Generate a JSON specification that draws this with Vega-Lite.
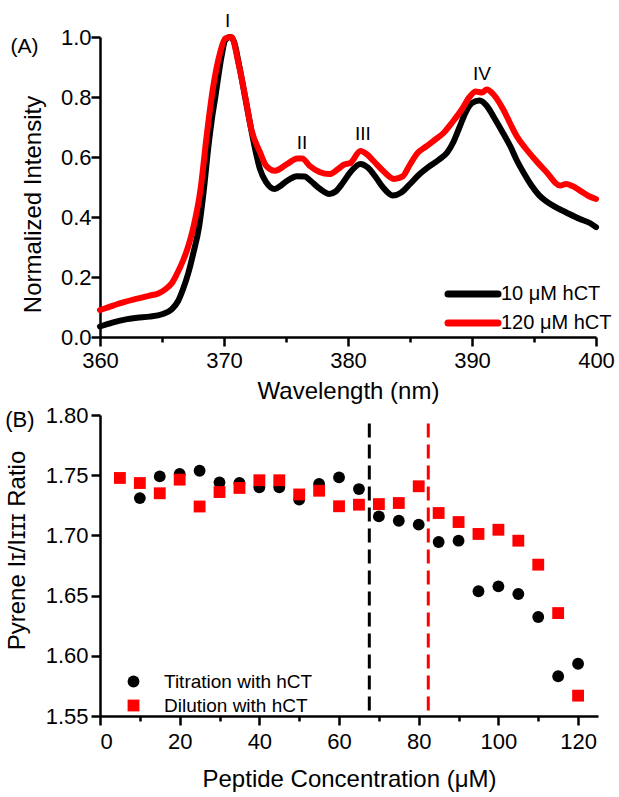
{
  "$schema": "https://vega.github.io/schema/vega-lite/v6.json",
  "background": "white",
  "padding": {"left": 5, "top": 11, "right": 5, "bottom": 5},
  "spacing": 1,
  "resolve": {"scale": {"color": "independent", "shape": "independent"}, "legend": {"color": "independent", "shape": "independent"}},
  "config": {
    "font": "Liberation Sans",
    "view": {"stroke": null},
    "axis": {
      "domainColor": "black", "domainWidth": 2.5, "ticks": true, "tickColor": "black", "tickWidth": 2.5, "tickSize": 9,
      "labelColor": "black", "titleColor": "black", "labelFontSize": 22, "titleFontSize": 24,
      "titleFontWeight": "normal", "grid": false, "labelFont": "Liberation Sans", "titleFont": "Liberation Sans"
    },
    "legend": {"labelFont": "Liberation Sans", "labelColor": "black", "padding": 0, "title": null}
  },
  "datasets": {
    "spectra": [
      {"s": "10 μM hCT", "wl": 360, "i": 0.035}, {"s": "10 μM hCT", "wl": 361, "i": 0.048}, {"s": "10 μM hCT", "wl": 362, "i": 0.058},
      {"s": "10 μM hCT", "wl": 363, "i": 0.064}, {"s": "10 μM hCT", "wl": 364, "i": 0.068}, {"s": "10 μM hCT", "wl": 365, "i": 0.076},
      {"s": "10 μM hCT", "wl": 365.8, "i": 0.093}, {"s": "10 μM hCT", "wl": 366.3, "i": 0.12}, {"s": "10 μM hCT", "wl": 366.7, "i": 0.16},
      {"s": "10 μM hCT", "wl": 367.1, "i": 0.21}, {"s": "10 μM hCT", "wl": 367.5, "i": 0.275}, {"s": "10 μM hCT", "wl": 368.0, "i": 0.37},
      {"s": "10 μM hCT", "wl": 368.4, "i": 0.5}, {"s": "10 μM hCT", "wl": 368.7, "i": 0.62}, {"s": "10 μM hCT", "wl": 369.0, "i": 0.72},
      {"s": "10 μM hCT", "wl": 369.3, "i": 0.8}, {"s": "10 μM hCT", "wl": 369.8, "i": 0.935}, {"s": "10 μM hCT", "wl": 370.1, "i": 0.99},
      {"s": "10 μM hCT", "wl": 370.5, "i": 1.0}, {"s": "10 μM hCT", "wl": 370.8, "i": 0.985}, {"s": "10 μM hCT", "wl": 371.2, "i": 0.91},
      {"s": "10 μM hCT", "wl": 371.7, "i": 0.8}, {"s": "10 μM hCT", "wl": 372.2, "i": 0.69}, {"s": "10 μM hCT", "wl": 372.6, "i": 0.61},
      {"s": "10 μM hCT", "wl": 372.9, "i": 0.56}, {"s": "10 μM hCT", "wl": 373.4, "i": 0.516}, {"s": "10 μM hCT", "wl": 374.1, "i": 0.493},
      {"s": "10 μM hCT", "wl": 374.6, "i": 0.505}, {"s": "10 μM hCT", "wl": 375.1, "i": 0.521}, {"s": "10 μM hCT", "wl": 375.9, "i": 0.536},
      {"s": "10 μM hCT", "wl": 376.5, "i": 0.535}, {"s": "10 μM hCT", "wl": 377.0, "i": 0.52}, {"s": "10 μM hCT", "wl": 377.7, "i": 0.495},
      {"s": "10 μM hCT", "wl": 378.5, "i": 0.477}, {"s": "10 μM hCT", "wl": 379.0, "i": 0.485}, {"s": "10 μM hCT", "wl": 379.6, "i": 0.515},
      {"s": "10 μM hCT", "wl": 380.2, "i": 0.55}, {"s": "10 μM hCT", "wl": 381.0, "i": 0.577}, {"s": "10 μM hCT", "wl": 381.6, "i": 0.565},
      {"s": "10 μM hCT", "wl": 382.2, "i": 0.535}, {"s": "10 μM hCT", "wl": 382.8, "i": 0.5}, {"s": "10 μM hCT", "wl": 383.6, "i": 0.472},
      {"s": "10 μM hCT", "wl": 384.3, "i": 0.482}, {"s": "10 μM hCT", "wl": 385.0, "i": 0.51}, {"s": "10 μM hCT", "wl": 385.7, "i": 0.54},
      {"s": "10 μM hCT", "wl": 386.5, "i": 0.567}, {"s": "10 μM hCT", "wl": 387.3, "i": 0.59}, {"s": "10 μM hCT", "wl": 388.0, "i": 0.615},
      {"s": "10 μM hCT", "wl": 388.5, "i": 0.65}, {"s": "10 μM hCT", "wl": 389.0, "i": 0.7}, {"s": "10 μM hCT", "wl": 389.5, "i": 0.75},
      {"s": "10 μM hCT", "wl": 390.0, "i": 0.78}, {"s": "10 μM hCT", "wl": 390.6, "i": 0.788}, {"s": "10 μM hCT", "wl": 391.2, "i": 0.77},
      {"s": "10 μM hCT", "wl": 391.8, "i": 0.73}, {"s": "10 μM hCT", "wl": 392.5, "i": 0.68}, {"s": "10 μM hCT", "wl": 393.1, "i": 0.635},
      {"s": "10 μM hCT", "wl": 393.6, "i": 0.59}, {"s": "10 μM hCT", "wl": 394.2, "i": 0.545}, {"s": "10 μM hCT", "wl": 394.8, "i": 0.505},
      {"s": "10 μM hCT", "wl": 395.4, "i": 0.473}, {"s": "10 μM hCT", "wl": 396.0, "i": 0.452}, {"s": "10 μM hCT", "wl": 396.6, "i": 0.436},
      {"s": "10 μM hCT", "wl": 397.6, "i": 0.415}, {"s": "10 μM hCT", "wl": 398.7, "i": 0.393}, {"s": "10 μM hCT", "wl": 399.5, "i": 0.38},
      {"s": "10 μM hCT", "wl": 400, "i": 0.366},
      {"s": "120 μM hCT", "wl": 360, "i": 0.09}, {"s": "120 μM hCT", "wl": 361, "i": 0.104}, {"s": "120 μM hCT", "wl": 362, "i": 0.117},
      {"s": "120 μM hCT", "wl": 363, "i": 0.128}, {"s": "120 μM hCT", "wl": 364, "i": 0.138}, {"s": "120 μM hCT", "wl": 364.7, "i": 0.145},
      {"s": "120 μM hCT", "wl": 365.3, "i": 0.16}, {"s": "120 μM hCT", "wl": 365.8, "i": 0.18}, {"s": "120 μM hCT", "wl": 366.2, "i": 0.21},
      {"s": "120 μM hCT", "wl": 366.7, "i": 0.255}, {"s": "120 μM hCT", "wl": 367.1, "i": 0.3}, {"s": "120 μM hCT", "wl": 367.5, "i": 0.36},
      {"s": "120 μM hCT", "wl": 368.1, "i": 0.49}, {"s": "120 μM hCT", "wl": 368.6, "i": 0.67}, {"s": "120 μM hCT", "wl": 369.1, "i": 0.827},
      {"s": "120 μM hCT", "wl": 369.7, "i": 0.95}, {"s": "120 μM hCT", "wl": 370.1, "i": 0.995}, {"s": "120 μM hCT", "wl": 370.6, "i": 1.0},
      {"s": "120 μM hCT", "wl": 371.15, "i": 0.916}, {"s": "120 μM hCT", "wl": 371.7, "i": 0.804}, {"s": "120 μM hCT", "wl": 372.2, "i": 0.693},
      {"s": "120 μM hCT", "wl": 372.9, "i": 0.616}, {"s": "120 μM hCT", "wl": 373.4, "i": 0.571}, {"s": "120 μM hCT", "wl": 374.1, "i": 0.554},
      {"s": "120 μM hCT", "wl": 375.1, "i": 0.577}, {"s": "120 μM hCT", "wl": 375.9, "i": 0.595}, {"s": "120 μM hCT", "wl": 376.3, "i": 0.595},
      {"s": "120 μM hCT", "wl": 376.9, "i": 0.571}, {"s": "120 μM hCT", "wl": 377.7, "i": 0.55}, {"s": "120 μM hCT", "wl": 378.5, "i": 0.543},
      {"s": "120 μM hCT", "wl": 379.2, "i": 0.56}, {"s": "120 μM hCT", "wl": 379.7, "i": 0.575}, {"s": "120 μM hCT", "wl": 380.2, "i": 0.58},
      {"s": "120 μM hCT", "wl": 381.0, "i": 0.62}, {"s": "120 μM hCT", "wl": 381.5, "i": 0.61}, {"s": "120 μM hCT", "wl": 382.1, "i": 0.585},
      {"s": "120 μM hCT", "wl": 382.8, "i": 0.555}, {"s": "120 μM hCT", "wl": 383.7, "i": 0.527}, {"s": "120 μM hCT", "wl": 384.4, "i": 0.535},
      {"s": "120 μM hCT", "wl": 385.0, "i": 0.575}, {"s": "120 μM hCT", "wl": 385.6, "i": 0.613}, {"s": "120 μM hCT", "wl": 386.3, "i": 0.635},
      {"s": "120 μM hCT", "wl": 386.9, "i": 0.654}, {"s": "120 μM hCT", "wl": 387.7, "i": 0.68}, {"s": "120 μM hCT", "wl": 388.4, "i": 0.715},
      {"s": "120 μM hCT", "wl": 389.2, "i": 0.76}, {"s": "120 μM hCT", "wl": 389.8, "i": 0.8}, {"s": "120 μM hCT", "wl": 390.3, "i": 0.818},
      {"s": "120 μM hCT", "wl": 390.8, "i": 0.815}, {"s": "120 μM hCT", "wl": 391.2, "i": 0.825}, {"s": "120 μM hCT", "wl": 391.7, "i": 0.81},
      {"s": "120 μM hCT", "wl": 392.5, "i": 0.76}, {"s": "120 μM hCT", "wl": 393.1, "i": 0.71}, {"s": "120 μM hCT", "wl": 393.6, "i": 0.67},
      {"s": "120 μM hCT", "wl": 394.3, "i": 0.63}, {"s": "120 μM hCT", "wl": 394.9, "i": 0.6}, {"s": "120 μM hCT", "wl": 396.0, "i": 0.55},
      {"s": "120 μM hCT", "wl": 397.1, "i": 0.505}, {"s": "120 μM hCT", "wl": 397.6, "i": 0.51}, {"s": "120 μM hCT", "wl": 398.1, "i": 0.503},
      {"s": "120 μM hCT", "wl": 398.7, "i": 0.488}, {"s": "120 μM hCT", "wl": 399.4, "i": 0.47}, {"s": "120 μM hCT", "wl": 400, "i": 0.46}
    ],
    "peaks": [
      {"peak": "I", "wl": 370.3, "i": 1.054},
      {"peak": "II", "wl": 376.3, "i": 0.647},
      {"peak": "III", "wl": 381.2, "i": 0.677},
      {"peak": "IV", "wl": 390.8, "i": 0.877}
    ],
    "ratio": [
      {"m": "Titration with hCT", "c": 10, "r": 1.731}, {"m": "Titration with hCT", "c": 15, "r": 1.749},
      {"m": "Titration with hCT", "c": 20, "r": 1.751}, {"m": "Titration with hCT", "c": 25, "r": 1.7537},
      {"m": "Titration with hCT", "c": 30, "r": 1.744}, {"m": "Titration with hCT", "c": 35, "r": 1.7435},
      {"m": "Titration with hCT", "c": 40, "r": 1.74}, {"m": "Titration with hCT", "c": 45, "r": 1.74},
      {"m": "Titration with hCT", "c": 50, "r": 1.7297}, {"m": "Titration with hCT", "c": 55, "r": 1.7427},
      {"m": "Titration with hCT", "c": 60, "r": 1.7482}, {"m": "Titration with hCT", "c": 65, "r": 1.7385},
      {"m": "Titration with hCT", "c": 70, "r": 1.7158}, {"m": "Titration with hCT", "c": 75, "r": 1.7122},
      {"m": "Titration with hCT", "c": 80, "r": 1.7089}, {"m": "Titration with hCT", "c": 85, "r": 1.6945},
      {"m": "Titration with hCT", "c": 90, "r": 1.6956}, {"m": "Titration with hCT", "c": 95, "r": 1.6536},
      {"m": "Titration with hCT", "c": 100, "r": 1.6577}, {"m": "Titration with hCT", "c": 105, "r": 1.6513},
      {"m": "Titration with hCT", "c": 110, "r": 1.6322}, {"m": "Titration with hCT", "c": 115, "r": 1.583},
      {"m": "Titration with hCT", "c": 120, "r": 1.5934},
      {"m": "Dilution with hCT", "c": 5, "r": 1.7477}, {"m": "Dilution with hCT", "c": 10, "r": 1.7435},
      {"m": "Dilution with hCT", "c": 15, "r": 1.735}, {"m": "Dilution with hCT", "c": 20, "r": 1.7463},
      {"m": "Dilution with hCT", "c": 25, "r": 1.724}, {"m": "Dilution with hCT", "c": 30, "r": 1.736},
      {"m": "Dilution with hCT", "c": 35, "r": 1.7394}, {"m": "Dilution with hCT", "c": 40, "r": 1.7458},
      {"m": "Dilution with hCT", "c": 45, "r": 1.7458}, {"m": "Dilution with hCT", "c": 50, "r": 1.734},
      {"m": "Dilution with hCT", "c": 55, "r": 1.7371}, {"m": "Dilution with hCT", "c": 60, "r": 1.7242},
      {"m": "Dilution with hCT", "c": 65, "r": 1.7255}, {"m": "Dilution with hCT", "c": 70, "r": 1.726},
      {"m": "Dilution with hCT", "c": 75, "r": 1.7269}, {"m": "Dilution with hCT", "c": 80, "r": 1.7408},
      {"m": "Dilution with hCT", "c": 85, "r": 1.7186}, {"m": "Dilution with hCT", "c": 90, "r": 1.7111},
      {"m": "Dilution with hCT", "c": 95, "r": 1.7012}, {"m": "Dilution with hCT", "c": 100, "r": 1.7047},
      {"m": "Dilution with hCT", "c": 105, "r": 1.6956}, {"m": "Dilution with hCT", "c": 110, "r": 1.6757},
      {"m": "Dilution with hCT", "c": 115, "r": 1.6355}, {"m": "Dilution with hCT", "c": 120, "r": 1.5669}
    ],
    "thresholds": [
      {"m": "Titration with hCT", "c": 67.6},
      {"m": "Dilution with hCT", "c": 82.4}
    ]
  },
  "vconcat": [
    {
      "width": 496,
      "height": 300,
      "title": {"text": "(A)", "anchor": "start", "frame": "bounds", "orient": "top", "baseline": "top", "offset": -45, "dx": -11, "fontSize": 21, "fontWeight": "normal", "color": "black", "font": "Liberation Sans"},
      "layer": [
        {
          "data": {"name": "spectra"},
          "mark": {"type": "line", "strokeWidth": 6, "interpolate": "monotone", "strokeJoin": "round", "strokeCap": "round"},
          "encoding": {
            "x": {"field": "wl", "type": "quantitative", "scale": {"domain": [360, 400], "nice": false, "zero": false},
              "axis": {"title": "Wavelength (nm)", "values": [360, 365, 370, 375, 380, 385, 390, 395, 400],
                "labelExpr": "datum.value % 10 === 0 ? datum.label : ''",
                "labelOverlap": false, "labelFlush": false,
                "tickDash": {"condition": {"test": "datum.value % 10 === 0", "value": [9, 1]}, "value": [5, 30]},
                "labelPadding": 4, "titlePadding": 8}},
            "y": {"field": "i", "type": "quantitative", "scale": {"domain": [0, 1], "nice": false},
              "axis": {"title": "Normalized Intensity", "values": [0, 0.1, 0.2, 0.3, 0.4, 0.5, 0.6, 0.7, 0.8, 0.9, 1.0],
                "labelExpr": "round(datum.value*10) % 2 === 0 ? format(datum.value, '.1f') : ''",
                "labelOverlap": false,
                "tickDash": {"condition": {"test": "round(datum.value*10) % 2 === 0", "value": [9, 1]}, "value": [5, 30]},
                "labelPadding": 0, "titlePadding": 15, "titleY": 167}},
            "color": {"field": "s", "type": "nominal",
              "scale": {"domain": ["10 μM hCT", "120 μM hCT"], "range": ["#000000", "#ff0000"]},
              "legend": {"orient": "none", "legendX": 363, "legendY": 247, "symbolType": "M-5,0H5", "symbolSize": 100,
                "symbolStrokeWidth": 7, "labelFontSize": 20, "labelOffset": 18, "rowPadding": 1,
                "encode": {"symbols": {"update": {"strokeCap": {"value": "round"}}}}}}
          }
        },
        {
          "data": {"name": "peaks"},
          "mark": {"type": "text", "fontSize": 19, "color": "black", "font": "Liberation Sans"},
          "encoding": {
            "x": {"field": "wl", "type": "quantitative"},
            "y": {"field": "i", "type": "quantitative"},
            "text": {"field": "peak"}
          }
        }
      ]
    },
    {
      "width": 498,
      "height": 301,
      "title": {"text": "(B)", "anchor": "start", "frame": "bounds", "orient": "top", "baseline": "top", "offset": -28, "dx": 0, "fontSize": 22, "fontWeight": "normal", "color": "black", "font": "Liberation Sans"},
      "layer": [
        {
          "data": {"name": "thresholds"},
          "transform": [{"filter": "datum.m === 'Titration with hCT'"}],
          "mark": {"type": "rule", "color": "black", "strokeWidth": 3, "strokeDash": [14, 7]},
          "encoding": {
            "x": {"field": "c", "type": "quantitative"},
            "y": {"datum": 1.793, "type": "quantitative"},
            "y2": {"datum": 1.55}
          }
        },
        {
          "data": {"name": "thresholds"},
          "transform": [{"filter": "datum.m === 'Dilution with hCT'"}],
          "mark": {"type": "rule", "color": "#ff0000", "strokeWidth": 3, "strokeDash": [14, 7]},
          "encoding": {
            "x": {"field": "c", "type": "quantitative"},
            "y": {"datum": 1.793, "type": "quantitative"},
            "y2": {"datum": 1.55}
          }
        },
        {
          "data": {"name": "ratio"},
          "mark": {"type": "point", "filled": true, "size": 140, "opacity": 1},
          "encoding": {
            "x": {"field": "c", "type": "quantitative", "scale": {"domain": [0, 125], "nice": false},
              "axis": {"title": "Peptide Concentration (μM)", "values": [0, 10, 20, 30, 40, 50, 60, 70, 80, 90, 100, 110, 120],
                "labelExpr": "datum.value % 20 === 0 ? datum.label : ''",
                "labelOverlap": false,
                "tickDash": {"condition": {"test": "datum.value % 20 === 0", "value": [9, 1]}, "value": [5, 30]},
                "labelPadding": 6, "titlePadding": 15}},
            "y": {"field": "r", "type": "quantitative", "scale": {"domain": [1.55, 1.8], "nice": false, "zero": false},
              "axis": {"title": "Pyrene Iɪ/Iɪɪɪ Ratio", "values": [1.55, 1.575, 1.6, 1.625, 1.65, 1.675, 1.7, 1.725, 1.75, 1.775, 1.8],
                "labelExpr": "round(datum.value*1000) % 50 === 0 ? format(datum.value, '.2f') : ''",
                "labelOverlap": false,
                "tickDash": {"condition": {"test": "round(datum.value*1000) % 50 === 0", "value": [9, 1]}, "value": [5, 30]},
                "labelPadding": 3, "titlePadding": 16, "titleY": 135}},
            "color": {"field": "m", "type": "nominal",
              "scale": {"domain": ["Titration with hCT", "Dilution with hCT"], "range": ["#000000", "#ff0000"]},
              "legend": {"orient": "none", "legendX": 24, "legendY": 257, "symbolSize": 140, "labelFontSize": 19,
                "labelOffset": 21, "rowPadding": 4, "symbolOpacity": 1}},
            "shape": {"field": "m", "type": "nominal",
              "scale": {"domain": ["Titration with hCT", "Dilution with hCT"], "range": ["circle", "square"]}}
          }
        }
      ]
    }
  ]
}
